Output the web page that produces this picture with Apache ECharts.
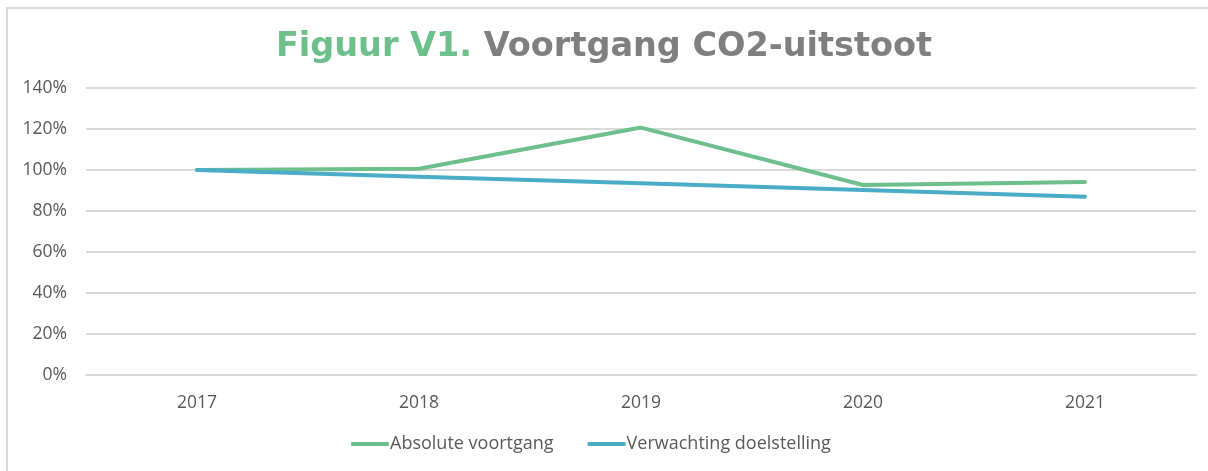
<!DOCTYPE html>
<html>
<head>
<meta charset="utf-8">
<script src="https://cdn.jsdelivr.net/npm/echarts@6/dist/echarts.min.js"></script>
<style>
  html, body { margin: 0; padding: 0; background: #fff; }
  #chart { width: 1208px; height: 471px; }
</style>
</head>
<body>
<div id="chart"></div>
<script>
// data
const years = ['2017', '2018', '2019', '2020', '2021']
const absoluteProgress = [100, 100.6, 120.7, 92.7, 94.1]
const expectedTarget = [100, 96.75, 93.5, 90.25, 87]
const seriesNames = ['Absolute voortgang', 'Verwachting doelstelling']

const green = '#6dbf8b'
const blue = '#4aacc6'
const textColor = '#595959'

const myChart = echarts.init(document.getElementById('chart'))

const option = {
  animation: false,
  title: {
    text: '{g|Figuur V1.} {d|Voortgang CO2-uitstoot}',
    left: 'center',
    top: 25,
    textStyle: {
      fontFamily: 'DejaVu Sans',
      fontWeight: 'bold',
      fontSize: 33.5,
      rich: {
        g: { color: green, fontSize: 33.5, fontWeight: 'bold', fontFamily: 'DejaVu Sans' },
        d: { color: '#7f7f7f', fontSize: 33.5, fontWeight: 'bold', fontFamily: 'DejaVu Sans' }
      }
    }
  },
  graphic: [
    { type: 'line', shape: { x1: 7, y1: 8, x2: 7, y2: 471 }, style: { stroke: '#d9d9d9', lineWidth: 2 } },
    { type: 'line', shape: { x1: 6, y1: 8, x2: 1208, y2: 8 }, style: { stroke: '#d9d9d9', lineWidth: 2 } }
  ],
  legend: {
    data: seriesNames,
    bottom: 13,
    left: 346,
    itemWidth: 38,
    itemHeight: 4,
    itemGap: 34,
    icon: 'roundRect',
    textStyle: { color: textColor, fontSize: 18, fontFamily: 'Open Sans', padding: [0, 0, 0, -4] }
  },
  grid: {
    left: 86,
    right: 12,
    top: 88,
    bottom: 96
  },
  xAxis: {
    type: 'category',
    data: years,
    boundaryGap: true,
    axisLine: { lineStyle: { color: '#d9d9d9', width: 2 } },
    axisTick: { show: false },
    axisLabel: { color: textColor, fontSize: 17.5, fontFamily: 'Open Sans', margin: 19 }
  },
  yAxis: {
    type: 'value',
    min: 0,
    max: 140,
    interval: 20,
    axisLine: { show: false },
    axisTick: { show: false },
    splitLine: { lineStyle: { color: '#d9d9d9', width: 2 } },
    axisLabel: { color: textColor, fontSize: 17.5, fontFamily: 'Open Sans', margin: 19, formatter: '{value}%' }
  },
  series: [
    {
      name: seriesNames[0],
      type: 'line',
      data: absoluteProgress,
      showSymbol: false,
      symbol: 'none',
      lineStyle: { color: green, width: 4, cap: 'round' },
      itemStyle: { color: green }
    },
    {
      name: seriesNames[1],
      type: 'line',
      data: expectedTarget,
      showSymbol: false,
      symbol: 'none',
      lineStyle: { color: blue, width: 4, cap: 'round' },
      itemStyle: { color: blue }
    }
  ]
}

myChart.setOption(option)
</script>
</body>
</html>
